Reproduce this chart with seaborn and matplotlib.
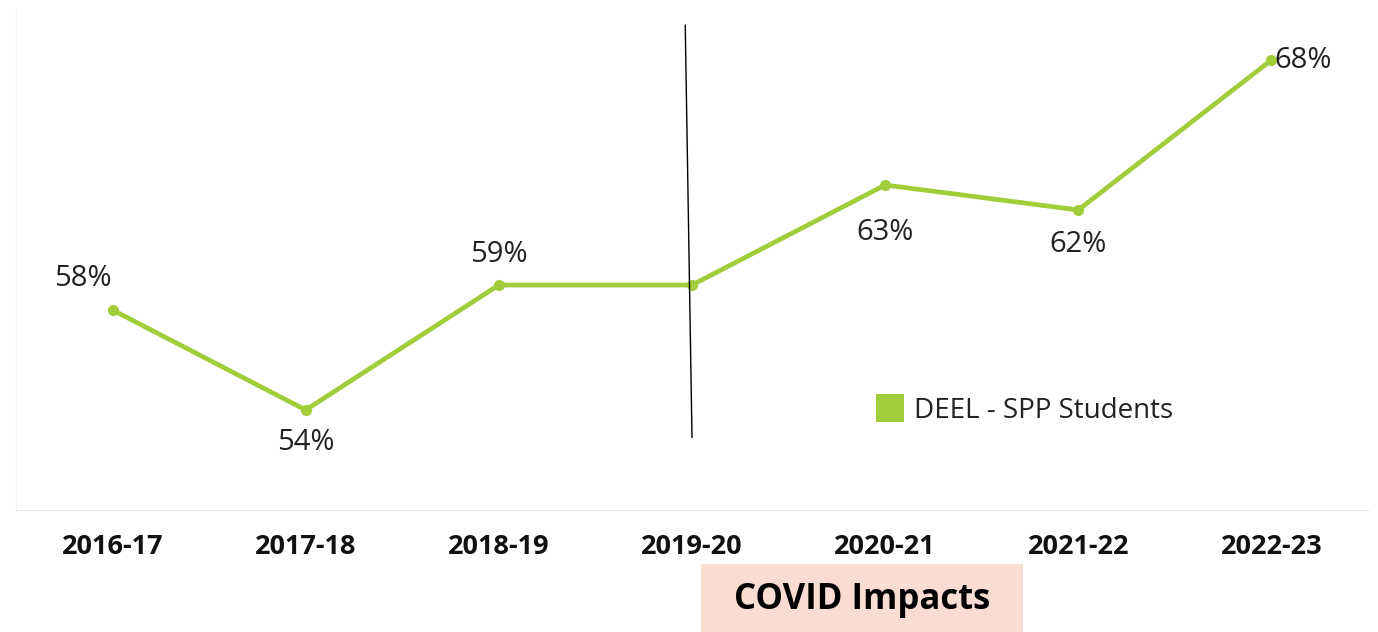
import pandas as pd
import matplotlib.pyplot as plt
import seaborn as sns
from matplotlib.patches import Rectangle

# Data
years = ['2016-17', '2017-18', '2018-19', '2019-20', '2020-21', '2021-22', '2022-23']
pct = [58, 54, 59, 59, 63, 62, 68]
show_label = [True, True, True, False, True, True, True]
series_name = 'DEEL - SPP Students'
covid_start = '2019-20'

GREEN = '#a2cd3a'

df = pd.DataFrame({'year': years, 'pct': pct})

sns.set_style('white')
plt.rcParams['font.family'] = ['Open Sans', 'DejaVu Sans']

fig = plt.figure(figsize=(13.78, 6.32), dpi=100)
ax = fig.add_axes([16 / 1378, 122 / 632, 1352 / 1378, 500 / 632])

sns.lineplot(data=df, x='year', y='pct', color=GREEN, linewidth=3.4,
             marker='o', markersize=8, markeredgewidth=0, label=series_name,
             sort=False, ax=ax)

ax.set_xlim(-0.5, len(years) - 0.5)
ax.set_ylim(50, 70)
ax.set_xlabel('')
ax.set_ylabel('')
ax.set_yticks([])

# Category labels in the middle, small ticks at the boundaries
ax.set_xticks(range(len(years)))
ax.set_xticklabels(years, fontweight='bold', fontsize=19.5, color='#111111')
ax.tick_params(axis='x', which='major', length=0, pad=17)
ax.set_xticks([i - 0.5 for i in range(len(years) + 1)], minor=True)
ax.tick_params(axis='x', which='minor', length=8, color='#eeeeee', width=1)

for side in ['top', 'right']:
    ax.spines[side].set_visible(False)
ax.spines['bottom'].set_color('#e8e8e8')
ax.spines['left'].set_color('#f2f2f2')

# Data labels (offsets in pixels)
offsets = [(-30, 32), (0, -32), (0, 31), (0, 0), (0, -47), (0, -34), (32, 0)]
for i, (v, show, off) in enumerate(zip(pct, show_label, offsets)):
    if not show:
        continue
    ax.annotate(f'{v}%', (i, v), xytext=off, textcoords='offset pixels',
                ha='center', va='center', fontsize=21, color='#222222')

# Hand-drawn COVID divider
ci = years.index(covid_start)
ax.plot([ci - 0.035, ci], [69.4, 52.9], color='black', linewidth=1)

leg = ax.legend(loc='upper left', bbox_to_anchor=(0.62, 0.275), frameon=False,
                fontsize=20, handlelength=0.8, handleheight=0.8, handletextpad=0.45,
                labelcolor='#222222')
for h in leg.legend_handles:
    h.set_marker('s')
    h.set_markersize(20)
    h.set_linestyle('')

# COVID Impacts box below the axis
fig.add_artist(Rectangle((701 / 1378, 0), 322 / 1378, 68 / 632,
                         transform=fig.transFigure, facecolor='#fbdcd3',
                         edgecolor='none'))
fig.text(862 / 1378, 32 / 632, 'COVID Impacts', ha='center', va='center',
         fontsize=25, fontweight='bold', color='black')

plt.savefig('out.png', dpi=100)
